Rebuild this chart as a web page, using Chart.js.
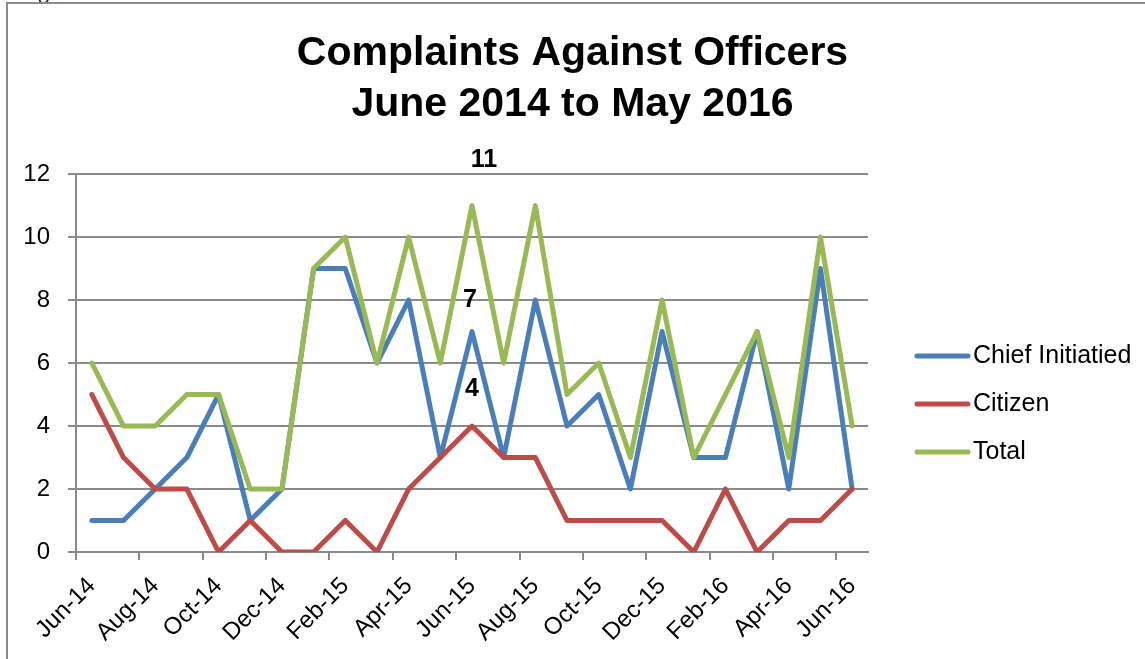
<!DOCTYPE html>
<html>
<head>
<meta charset="utf-8">
<title>Complaints Against Officers</title>
<script src="https://cdn.jsdelivr.net/npm/chart.js@4.4.0/dist/chart.umd.min.js"></script>
<style>
  html, body { margin: 0; padding: 0; background: #fff; }
  body { width: 1145px; height: 659px; position: relative; overflow: hidden; }
  #cut { position: absolute; left: 38px; top: -20px; font: 22px/22px "Liberation Serif"; color: #000; }
  #frame { position: absolute; left: 6px; top: 2px; right: -10px; bottom: -10px;
           border-left: 2px solid #8c8c8c; border-top: 2px solid #8c8c8c; }
  #myChart { position: absolute; left: 0; top: 0; }
</style>
</head>
<body>
<div id="cut">g</div>
<div id="frame"></div>
<canvas id="myChart" width="1145" height="659"></canvas>
<script>
// monthly counts, Jun-14 .. Jun-16
const months = ['Jun-14', 'Jul-14', 'Aug-14', 'Sep-14', 'Oct-14', 'Nov-14', 'Dec-14',
  'Jan-15', 'Feb-15', 'Mar-15', 'Apr-15', 'May-15', 'Jun-15', 'Jul-15', 'Aug-15',
  'Sep-15', 'Oct-15', 'Nov-15', 'Dec-15', 'Jan-16', 'Feb-16', 'Mar-16', 'Apr-16',
  'May-16', 'Jun-16'];
const chiefInitiated = [1, 1, 2, 3, 5, 1, 2, 9, 9, 6, 8, 3, 7, 3, 8, 4, 5, 2, 7, 3, 3, 7, 2, 9, 2];
const citizen = [5, 3, 2, 2, 0, 1, 0, 0, 1, 0, 2, 3, 4, 3, 3, 1, 1, 1, 1, 0, 2, 0, 1, 1, 2];
const total = [6, 4, 4, 5, 5, 2, 2, 9, 10, 6, 10, 6, 11, 6, 11, 5, 6, 3, 8, 3, 5, 7, 3, 10, 4];
const seriesNames = ['Chief Initiatied', 'Citizen', 'Total'];
const yTicks = [0, 2, 4, 6, 8, 10, 12];
const labelledMonth = 'Jun-15';

const FONT = 'Liberation Sans';
const GRAY = '#8a8a8a';
const colors = ['#4A7EBB', '#BE4B48', '#98B954'];

// value labels next to the points of one month (moved by hand in the original)
const labelOffsets = [
  { dx: -2, dy: -31 },
  { dx: 0, dy: -37 },
  { dx: 12, dy: -45 }
];

const valueLabels = {
  id: 'valueLabels',
  afterDatasetsDraw(chart) {
    const ctx = chart.ctx;
    const idx = chart.data.labels.indexOf(labelledMonth);
    ctx.save();
    ctx.font = 'bold 25px "' + FONT + '"';
    ctx.fillStyle = '#000';
    ctx.textAlign = 'center';
    ctx.textBaseline = 'middle';
    chart.data.datasets.forEach((ds, i) => {
      const pt = chart.getDatasetMeta(i).data[idx];
      ctx.fillText(String(ds.data[idx]), pt.x + labelOffsets[i].dx, pt.y + labelOffsets[i].dy);
    });
    ctx.restore();
  }
};

// legend on the right, line sample + name
const sideLegend = {
  id: 'sideLegend',
  afterDraw(chart) {
    const ctx = chart.ctx;
    const area = chart.chartArea;
    const x0 = area.right + 49;
    ctx.save();
    ctx.font = '25px "' + FONT + '"';
    ctx.textBaseline = 'middle';
    ctx.textAlign = 'left';
    chart.data.datasets.forEach((ds, i) => {
      const y = area.top + 182 + i * 48;
      ctx.strokeStyle = ds.borderColor;
      ctx.lineWidth = ds.borderWidth;
      ctx.lineCap = 'round';
      ctx.beginPath();
      ctx.moveTo(x0, y);
      ctx.lineTo(x0 + 51, y);
      ctx.stroke();
      ctx.fillStyle = '#000';
      ctx.fillText(ds.label, x0 + 56, y);
    });
    ctx.restore();
  }
};

const seriesData = [chiefInitiated, citizen, total];

new Chart('myChart', {
  type: 'line',
  data: {
    labels: months,
    datasets: seriesData.map((d, i) => ({
      label: seriesNames[i],
      data: d,
      yAxisID: 'y',
      borderColor: colors[i],
      backgroundColor: colors[i],
      borderWidth: 5,
      pointRadius: 0,
      pointHoverRadius: 0,
      tension: 0,
      borderJoinStyle: 'round',
      borderCapStyle: 'round',
      order: 3 - i   // later series on top, like the original
    }))
  },
  options: {
    responsive: false,
    animation: false,
    devicePixelRatio: 1,
    events: [],
    layout: { padding: 0 },
    plugins: {
      legend: { display: false },
      tooltip: { enabled: false },
      title: {
        display: true,
        text: ['Complaints Against Officers', 'June 2014 to May 2016'],
        color: '#000',
        font: { family: FONT, size: 41, weight: 'bold', lineHeight: 1.245 },
        padding: { top: 28, bottom: 44 }
      }
    },
    scales: {
      x: {
        offset: true,
        grid: {
          offset: true,
          drawOnChartArea: false,
          tickLength: 8,
          lineWidth: 2,
          tickColor: ctx => (ctx.index % 2 === 0 ? GRAY : 'rgba(0,0,0,0)')
        },
        border: { color: GRAY, width: 2 },
        ticks: {
          autoSkip: false,
          maxRotation: 45,
          minRotation: 45,
          padding: 12,
          color: '#000',
          font: { family: FONT, size: 24 },
          callback: function (v, i) {
            return i % 2 === 0 ? this.getLabelForValue(v) : '';
          }
        },
        afterFit: s => { s.height = 107; }
      },
      y: {
        min: 0,
        max: 12,
        afterBuildTicks: s => { s.ticks = yTicks.map(v => ({ value: v })); },
        grid: { color: GRAY, lineWidth: 2, tickLength: 8 },
        border: { color: GRAY, width: 2 },
        ticks: { color: '#000', padding: 18, font: { family: FONT, size: 24 } },
        afterFit: s => { s.width = 76; }
      },
      // empty axis that keeps room for the legend on the right
      pad: {
        position: 'right',
        display: true,
        grid: { display: false, drawTicks: false },
        border: { display: false },
        ticks: { display: false },
        afterFit: s => { s.width = 277; }
      }
    }
  },
  plugins: [valueLabels, sideLegend]
});
</script>
</body>
</html>
